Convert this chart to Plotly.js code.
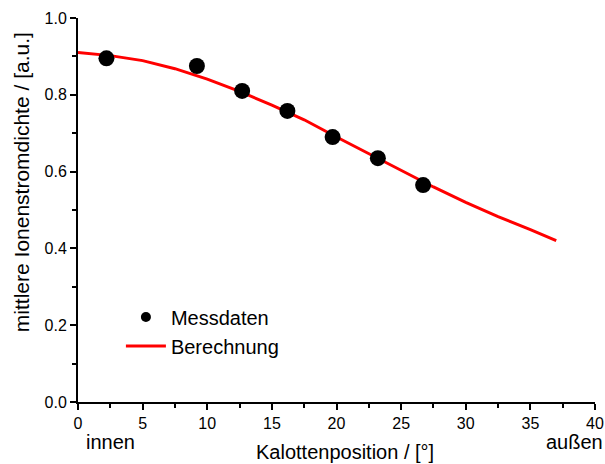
<!DOCTYPE html>
<html><head><meta charset="utf-8">
<script src="https://cdn.plot.ly/plotly-3.0.1.min.js"></script>
<style>body{margin:0;background:#fff}#c{width:605px;height:464px}</style>
</head><body><div id="c"></div>
<script>
const measX = [2.2, 9.2, 12.7, 16.2, 19.7, 23.2, 26.7];
const measY = [0.895, 0.875, 0.81, 0.758, 0.69, 0.635, 0.565];
const calcX = [0, 2.5, 5, 7.5, 10, 12.5, 15, 17.5, 20, 22.5, 25, 27.5, 30, 32.5, 35, 37];
const calcY = [0.910, 0.902, 0.889, 0.868, 0.841, 0.809, 0.773, 0.735, 0.690, 0.646, 0.602, 0.560, 0.520, 0.483, 0.449, 0.420];
const xTicks = [0, 5, 10, 15, 20, 25, 30, 35, 40];
const yTicks = [0.0, 0.2, 0.4, 0.6, 0.8, 1.0];

const F = 'Liberation Sans, Arial, sans-serif';
const traces = [
  {x: calcX, y: calcY, mode: 'lines', line: {color: '#ff0000', width: 3}, showlegend: false},
  {x: measX, y: measY, mode: 'markers', marker: {color: '#000', size: 16}, showlegend: false},
  {x: [null], y: [null], mode: 'markers', marker: {color: '#000', size: 10}, name: 'Messdaten'},
  {x: [null], y: [null], mode: 'lines', line: {color: '#ff0000', width: 3}, name: 'Berechnung'}
];
const layout = {
  width: 605, height: 464,
  margin: {l: 78, r: 10, t: 18, b: 62},
  paper_bgcolor: '#fff', plot_bgcolor: '#fff',
  font: {family: F, color: '#000', size: 16},
  xaxis: {
    range: [0, 40], tickvals: xTicks, ticktext: xTicks.map(String),
    showgrid: false, zeroline: false, showline: true, linecolor: '#000', linewidth: 2,
    ticks: 'outside', ticklen: 6, tickwidth: 2, tickcolor: '#000',
    minor: {dtick: 2.5, tick0: 0, ticks: 'outside', ticklen: 4, tickwidth: 2, tickcolor: '#000', showgrid: false},
    tickfont: {size: 16}
  },
  yaxis: {
    range: [0, 1], tickvals: yTicks, ticktext: yTicks.map(v => v.toFixed(1)),
    showgrid: false, zeroline: false, showline: true, linecolor: '#000', linewidth: 2,
    ticks: 'outside', ticklen: 6, tickwidth: 2, tickcolor: '#000',
    minor: {dtick: 0.1, tick0: 0, ticks: 'outside', ticklen: 4, tickwidth: 2, tickcolor: '#000', showgrid: false},
    tickfont: {size: 16}
  },
  legend: {x: 0.083, y: 0.272, xanchor: 'left', yanchor: 'top', bgcolor: 'rgba(0,0,0,0)',
    font: {size: 20}, itemwidth: 40, tracegroupgap: 0},
  annotations: [
    {text: 'Kalottenposition / [°]', xref: 'paper', yref: 'paper', x: 0.516, y: -0.13, xanchor: 'center', yanchor: 'middle', showarrow: false, font: {size: 20}},
    {text: 'mittlere Ionenstromdichte / [a.u.]', xref: 'paper', yref: 'paper', x: -0.108, y: 0.573, xanchor: 'center', yanchor: 'middle', textangle: -90, showarrow: false, font: {size: 21}},
    {text: 'innen', xref: 'paper', yref: 'paper', x: 0.012, y: -0.07, xanchor: 'left', yanchor: 'top', showarrow: false, font: {size: 20}},
    {text: 'außen', xref: 'paper', yref: 'paper', x: 1.02, y: -0.07, xanchor: 'right', yanchor: 'top', showarrow: false, font: {size: 20}}
  ]
};
Plotly.newPlot('c', traces, layout, {staticPlot: true, displayModeBar: false});
</script></body></html>
